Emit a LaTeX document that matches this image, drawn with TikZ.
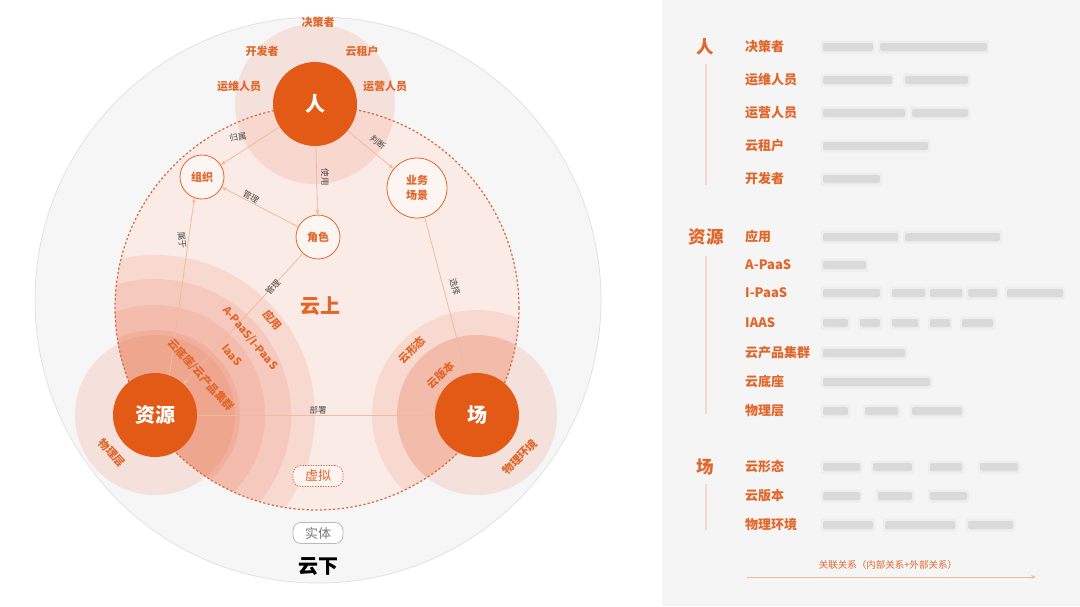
\documentclass[tikz,border=0pt]{standalone}
\usepackage{fontspec}
\setmainfont{Noto Sans CJK SC}
\usetikzlibrary{arrows.meta}
\definecolor{nodeor}{HTML}{E35A17}
\definecolor{txtor}{HTML}{E2662A}
\definecolor{lineor}{HTML}{F0BA9C}
\definecolor{ringor}{HTML}{E8653F}
\definecolor{cloudfill}{HTML}{FBEBE6}
\definecolor{outerfill}{HTML}{F6F6F6}
\definecolor{outerline}{HTML}{E2E2E2}
\definecolor{panel}{HTML}{F5F5F5}
\definecolor{dashor}{HTML}{D8673A}
\definecolor{edgetxt}{HTML}{4A4A4A}
\definecolor{blurgray}{HTML}{DADADA}
\definecolor{vline}{HTML}{F5D9CD}
\newcommand\blurbar[3]{%
  \fill[blurgray!45, rounded corners=2pt] (#2-2,#1-6.5) rectangle (#3+2,#1+6.5);
  \fill[blurgray, rounded corners=1.5pt] (#2,#1-4) rectangle (#3,#1+4);}
\begin{document}
\begin{tikzpicture}[x=1pt,y=-1pt,
  bignode/.style={circle, fill=nodeor, text=white, font=\fontsize{20}{20}\selectfont\bfseries, minimum size=84pt, inner sep=0pt},
  smallnode/.style={circle, draw=txtor, line width=0.8pt, fill=cloudfill!50!white, text=txtor, font=\fontsize{11}{15}\selectfont\bfseries, minimum size=44pt, inner sep=0pt, align=center},
  lbl/.style={text=txtor, font=\fontsize{11}{11}\selectfont\bfseries, inner sep=0pt},
  elbl/.style={text=edgetxt, font=\fontsize{8.5}{8.5}\selectfont, inner sep=0pt},
  conn/.style={draw=lineor, line width=0.8pt, -{Stealth[length=5pt,width=4pt]}},
  ring/.style={fill=ringor, fill opacity=0.13},
  halo/.style={fill=ringor, fill opacity=0.14},
  cat/.style={text=txtor, font=\fontsize{17.5}{17.5}\selectfont\bfseries, inner sep=0pt},
  item/.style={text=txtor, font=\fontsize{13}{13}\selectfont\bfseries, inner sep=0pt, anchor=west},
  vrule/.style={draw=vline, line width=1.4pt},
  tagbox/.style={rounded corners=8pt, minimum width=50pt, minimum height=21pt, inner sep=0pt, font=\fontsize{13}{13}\selectfont}]
\useasboundingbox (0,0) rectangle (1080,606);
\fill[white] (0,0) rectangle (1080,606);
\fill[panel] (662,0) rectangle (1080,606);

% outer (云下) circle
\filldraw[fill=outerfill, draw=outerline, line width=0.8pt] (318,300) circle[radius=283pt];
% cloud (云上) region
\fill[cloudfill] (317,308) circle[radius=202pt];
% halos
\fill[halo] (315,104) circle[radius=80pt];
\fill[halo] (155,415) circle[radius=80pt];
\fill[halo] (477,415) circle[radius=80pt];
% clipped rings
\begin{scope}
  \clip (317,308) circle[radius=202pt];
  \fill[ring] (155,415) circle[radius=160pt];
  \fill[ring] (155,415) circle[radius=136pt];
  \fill[ring] (155,415) circle[radius=110pt];
  \fill[ring] (155,415) circle[radius=85pt];
  \fill[ring] (477,415) circle[radius=105pt];
  \fill[ring] (477,415) circle[radius=80pt];
\end{scope}
\draw[dashor, line width=1.2pt, dash pattern=on 2.2pt off 2.2pt] (317,308) circle[radius=202pt];

% main nodes
\node[bignode] (ren) at (315,104) {人};
\node[bignode] (ziyuan) at (155,415) {资源};
\node[bignode] (chang) at (477,415) {场};
\node[smallnode] (zuzhi) at (202,177) {组织};
\node[smallnode] (juese) at (318,237) {角色};
\node[smallnode, minimum size=60pt] (yewu) at (417,188) {业务\\场景};

% connectors
\draw[conn] (ren) -- (zuzhi);
\draw[conn] (ren) -- (juese);
\draw[conn] (juese) -- (zuzhi);
\draw[conn] (ziyuan.70) -- (zuzhi.250);
\draw[conn] (juese) -- (ziyuan);
\draw[conn] (ren) -- (yewu);
\draw[conn] (yewu) -- (chang);
\draw[conn] (ziyuan) -- (chang);

% connector labels
\node[elbl, rotate=10] (l-guishu) at (238,137) {归属};
\node[elbl, rotate=-90] (l-shiyong) at (325,177) {使用};
\node[elbl, rotate=-31] (l-guanli1) at (251,197) {管理};
\node[elbl, rotate=-82] (l-shuyu) at (182,240) {属于};
\node[elbl, rotate=48] (l-guanli2) at (273,287) {管理};
\node[elbl, rotate=-40] (l-panduan) at (378,142) {判断};
\node[elbl, rotate=-75] (l-xuanze) at (455,287) {选择};
\node[elbl] (l-bushu) at (318,410) {部署};

% people labels
\node[lbl] (t-juece) at (318,22) {决策者};
\node[lbl] (t-kaifa) at (262,51) {开发者};
\node[lbl] (t-zuhu) at (362,51) {云租户};
\node[lbl] (t-yunwei) at (239,86) {运维人员};
\node[lbl] (t-yunying) at (385,86) {运营人员};

% resource ring labels
\node[lbl, rotate=-48] (t-dizuo) at (201,375) {云底座/云产品集群};
\node[lbl, rotate=-50] (t-iaas) at (232,355) {IaaS};
\node[lbl, rotate=-50] (t-paas) at (250,338) {A-PaaS/I-PaaS};
\node[lbl, rotate=-50] (t-yingyong) at (273,320) {应用};
\node[lbl, rotate=-48] (t-wulic) at (112,453) {物理层};

% scene ring labels
\node[lbl, rotate=45] (t-xingtai) at (412,350) {云形态};
\node[lbl, rotate=42] (t-banben) at (441,375) {云版本};
\node[lbl, rotate=45] (t-huanjing) at (520,457) {物理环境};

% big region labels
\node[text=txtor, font=\fontsize{20}{20}\selectfont\bfseries, inner sep=0pt] (t-yunshang) at (320,306) {云上};
\node[tagbox, draw=dashor, dash pattern=on 1.3pt off 1.3pt, line width=0.8pt, fill=cloudfill!60!white, text=txtor] (t-xuni) at (318,476) {虚拟};
\node[tagbox, draw=gray!55, line width=0.8pt, fill=white, text=gray!95!black] (t-shiti) at (318,533) {实体};
\node[text=black, font=\fontsize{20}{20}\selectfont\bfseries, inner sep=0pt] (t-yunxia) at (318,567) {云下};

% ===== right panel =====
\node[cat] (p-ren) at (705,47) {人};
\coordinate (p-ren-a) at (706,64);
\coordinate (p-ren-b) at (706,185);
\draw[vrule] (p-ren-a) -- (p-ren-b);
\node[item] (p1) at (745,47) {决策者};
\node[item] (p2) at (745,80) {运维人员};
\node[item] (p3) at (745,113) {运营人员};
\node[item] (p4) at (745,146) {云租户};
\node[item] (p5) at (745,179) {开发者};

\node[cat] (p-zy) at (706,237) {资源};
\coordinate (p-zy-a) at (706,256);
\coordinate (p-zy-b) at (706,414);
\draw[vrule] (p-zy-a) -- (p-zy-b);
\node[item] (r1) at (745,237) {应用};
\node[item] (r2) at (745,265) {A-PaaS};
\node[item] (r3) at (745,293) {I-PaaS};
\node[item] (r4) at (745,323) {IAAS};
\node[item] (r5) at (745,353) {云产品集群};
\node[item] (r6) at (745,382) {云底座};
\node[item] (r7) at (745,411) {物理层};

\node[cat] (p-ch) at (705,467) {场};
\coordinate (p-ch-a) at (706,484);
\coordinate (p-ch-b) at (706,530);
\draw[vrule] (p-ch-a) -- (p-ch-b);
\node[item] (s1) at (745,467) {云形态};
\node[item] (s2) at (745,496) {云版本};
\node[item] (s3) at (745,525) {物理环境};

% blurred descriptions
\blurbar{47}{823}{873}\blurbar{47}{880}{987}
\blurbar{80}{823}{892}\blurbar{80}{905}{968}
\blurbar{113}{823}{905}\blurbar{113}{912}{968}
\blurbar{146}{823}{928}
\blurbar{179}{823}{880}
\blurbar{237}{823}{898}\blurbar{237}{905}{1000}
\blurbar{265}{823}{866}
\blurbar{293}{823}{880}\blurbar{293}{892}{925}\blurbar{293}{930}{962}\blurbar{293}{968}{997}\blurbar{293}{1007}{1063}
\blurbar{323}{823}{848}\blurbar{323}{860}{880}\blurbar{323}{892}{918}\blurbar{323}{930}{950}\blurbar{323}{962}{993}
\blurbar{353}{823}{905}
\blurbar{382}{823}{930}
\blurbar{411}{823}{848}\blurbar{411}{865}{898}\blurbar{411}{912}{962}
\blurbar{467}{823}{860}\blurbar{467}{873}{912}\blurbar{467}{930}{962}\blurbar{467}{980}{1018}
\blurbar{496}{823}{860}\blurbar{496}{878}{912}\blurbar{496}{930}{967}
\blurbar{525}{823}{873}\blurbar{525}{885}{955}\blurbar{525}{968}{1013}

\node[text=txtor, font=\fontsize{9.5}{9.5}\selectfont, inner sep=0pt] (p-foot) at (888,565) {关联关系（内部关系+外部关系）};
\coordinate (fa) at (747,577);
\coordinate (fb) at (1036,577);
\draw[lineor, line width=0.8pt, -{Stealth[length=5pt,width=4pt]}] (fa) -- (fb);
\end{tikzpicture}
\end{document}
